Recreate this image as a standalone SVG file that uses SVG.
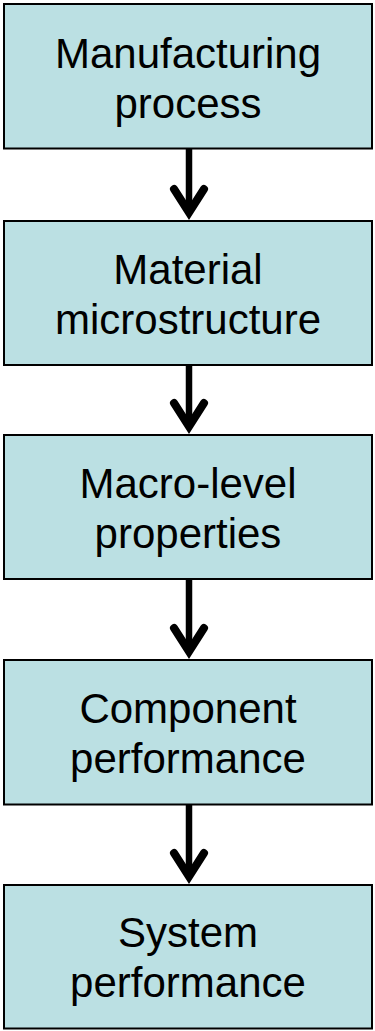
<svg xmlns="http://www.w3.org/2000/svg" width="375" height="1031" viewBox="0 0 375 1031">
<style>
.box{fill:#BBE0E3;stroke:#000;stroke-width:2}
.lbl{font-family:"Liberation Sans",Arial,sans-serif;font-size:42px;fill:#000;text-anchor:middle}
.shaft{stroke:#000;stroke-width:6.5;fill:none}
.head{stroke:#000;stroke-width:8;fill:none;stroke-linecap:round;stroke-linejoin:miter;stroke-miterlimit:10}
</style>
<rect width="375" height="1031" fill="#fff"/>
<g id="connectors">
<line class="shaft" x1="189" y1="149" x2="189" y2="212"/>
<polyline class="head" points="174,189 189,212.5 204,189"/>
<line class="shaft" x1="189" y1="366" x2="189" y2="426"/>
<polyline class="head" points="174,403 189,426.5 204,403"/>
<line class="shaft" x1="189" y1="580" x2="189" y2="651"/>
<polyline class="head" points="174,628 189,651.5 204,628"/>
<line class="shaft" x1="189" y1="805" x2="189" y2="876"/>
<polyline class="head" points="174,853 189,876.5 204,853"/>
</g>
<g id="node1">
<rect class="box" x="4" y="4" width="368" height="144.5"/>
<text class="lbl" x="188" y="68">Manufacturing</text>
<text class="lbl" x="188" y="118">process</text>
</g>
<g id="node2">
<rect class="box" x="4" y="221" width="368" height="144"/>
<text class="lbl" x="188" y="284">Material</text>
<text class="lbl" x="188" y="334">microstructure</text>
</g>
<g id="node3">
<rect class="box" x="4" y="435" width="368" height="144"/>
<text class="lbl" x="188" y="498">Macro-level</text>
<text class="lbl" x="188" y="548">properties</text>
</g>
<g id="node4">
<rect class="box" x="4" y="660" width="368" height="144.5"/>
<text class="lbl" x="188" y="723">Component</text>
<text class="lbl" x="188" y="773">performance</text>
</g>
<g id="node5">
<rect class="box" x="4" y="885" width="368" height="143.5"/>
<text class="lbl" x="188" y="947">System</text>
<text class="lbl" x="188" y="997">performance</text>
</g>
</svg>
